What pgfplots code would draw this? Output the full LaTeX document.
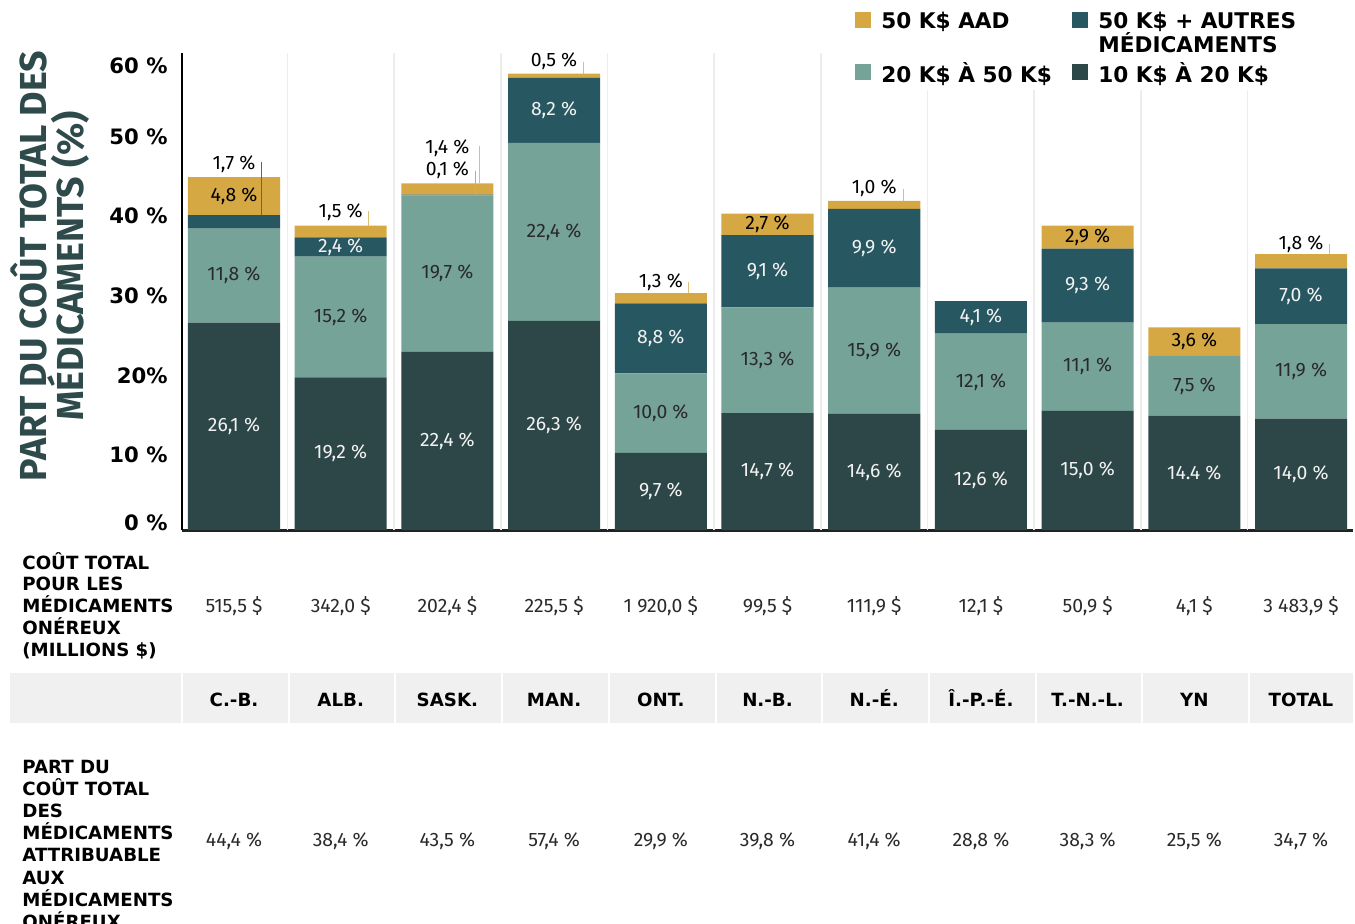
\documentclass[border=0pt]{standalone}
\usepackage{pgfplots}
\pgfplotsset{compat=1.18}
\usepackage{fontspec}
\setmainfont{Fira Sans}
\newfontfamily\hd{DejaVu Sans}
\definecolor{cgold}{HTML}{D5A843}
\definecolor{cblue}{HTML}{275862}
\definecolor{clight}{HTML}{76A398}
\definecolor{cdark}{HTML}{2D4647}
\definecolor{cylab}{HTML}{2E4A4A}
\definecolor{ctxt}{HTML}{2A2A2A}
\definecolor{cwt}{HTML}{F2F2F2}
\newcommand\lf{\fontsize{9.7}{11}\selectfont}
\newcommand\hf{\hd\bfseries\fontsize{9.1}{10.9}\selectfont}
\pgfplotsset{sqlegend/.style={legend image code/.code={\fill[##1,draw=none] (0pt,-3pt) rectangle (8pt,5pt);}},
  samegeom/.style={at={(91pt,-265pt)}, anchor=south west, scale only axis,
  width=585.5pt, height=238.5pt, xmin=-0.487, xmax=10.487, ymin=0, ymax=60, clip=false}}
\newcommand\lab[4]{\node[text=#4,font=\lf,inner sep=0pt] at (axis cs:#1,#2) {#3};}
\begin{document}
\begin{tikzpicture}
\begin{scope}[x=0.5pt,y=-0.5pt]
\useasboundingbox (0,0) rectangle (1355,923);
\fill[gray!12] (10,673) rectangle (1353,723);
\foreach \i in {0,...,10} \fill[white] ({182+106.7*\i-1},670) rectangle ({182+106.7*\i+1},726);
\node[rotate=90,align=center,font=\bfseries\fontsize{18.8}{18.5}\selectfont,text=cylab] at (50,266) {PART DU COÛT TOTAL DES\\MÉDICAMENTS (\%)};
\node[anchor=base west,inner sep=0pt,font=\hf] at (22,569) {\vtop{\baselineskip=10.9pt\lineskiplimit=-20pt\hbox{COÛT TOTAL}\hbox{POUR LES}\hbox{MÉDICAMENTS}\hbox{ONÉREUX}\hbox{(MILLIONS \$)}}};
\node[anchor=base west,inner sep=0pt,font=\hf] at (22,773) {\vtop{\baselineskip=11.1pt\lineskiplimit=-20pt\hbox{PART DU}\hbox{COÛT TOTAL}\hbox{DES}\hbox{MÉDICAMENTS}\hbox{ATTRIBUABLE}\hbox{AUX}\hbox{MÉDICAMENTS}\hbox{ONÉREUX}}};
\foreach \v [count=\i from 0] in {{515,5 \$},{342,0 \$},{202,4 \$},{225,5 \$},{1 920,0 \$},{99,5 \$},{111,9 \$},{12,1 \$},{50,9 \$},{4,1 \$},{3 483,9 \$}}
  \node[anchor=base,inner sep=0pt,font=\lf,text=ctxt] at ({234+106.7*\i},612) {\v};
\foreach \v [count=\i from 0] in {C.-B.,ALB.,SASK.,MAN.,ONT.,N.-B.,N.-É.,Î.-P.-É.,T.-N.-L.,YN,TOTAL}
  \node[anchor=base,inner sep=0pt,font=\hf] at ({234+106.7*\i},706) {\v};
\foreach \v [count=\i from 0] in {{44,4 \%},{38,4 \%},{43,5 \%},{57,4 \%},{29,9 \%},{39,8 \%},{41,4 \%},{28,8 \%},{38,3 \%},{25,5 \%},{34,7 \%}}
  \node[anchor=base,inner sep=0pt,font=\lf,text=ctxt] at ({234+106.7*\i},846) {\v};
\end{scope}
\begin{axis}[
  samegeom,
  ybar stacked, bar width=0.863,
  every axis plot post/.append style={sqlegend},
  axis x line*=bottom, axis y line*=left,
  x axis line style={line width=1.5pt, color=black!87},
  y axis line style={line width=1.1pt, color=black},
  xtick=\empty,
  ytick={0,10,20,30,40,50,60},
  yticklabels={{\raisebox{3.5pt}[\height][\depth]{0 \%}},{\raisebox{-2.25pt}[\height][\depth]{10 \%}},{\raisebox{-2.5pt}[\height][\depth]{20\%}},{\raisebox{-2.25pt}[\height][\depth]{30 \%}},{\raisebox{-2pt}[\height][\depth]{40 \%}},{\raisebox{-2.25pt}[\height][\depth]{50 \%}},{\raisebox{-6.5pt}[\height][\depth]{60 \%}}},
  major tick length=0pt,
  yticklabel style={font=\hd\bfseries\fontsize{10.6}{12}\selectfont, inner sep=0pt, xshift=-7pt},
  reverse legend,
  legend columns=2,
  legend style={at={(rel axis cs:0.5747,1.0944)}, anchor=north west, draw=none, fill=white,
    inner sep=0pt, font=\hd\bfseries\fontsize{10.8}{12}\selectfont, row sep=11.5pt,
    /tikz/every odd column/.append style={column sep=3pt},
    /tikz/every even column/.append style={column sep=0pt}},
  legend cell align=left,
]
\draw[gray!14,line width=0.8pt] (axis cs:0.5,0) -- (axis cs:0.5,60);
\draw[gray!14,line width=0.8pt] (axis cs:1.5,0) -- (axis cs:1.5,60);
\draw[gray!14,line width=0.8pt] (axis cs:2.5,0) -- (axis cs:2.5,60);
\draw[gray!14,line width=0.8pt] (axis cs:3.5,0) -- (axis cs:3.5,60);
\draw[gray!14,line width=0.8pt] (axis cs:4.5,0) -- (axis cs:4.5,60);
\draw[gray!14,line width=0.8pt] (axis cs:5.5,0) -- (axis cs:5.5,60);
\draw[gray!14,line width=0.8pt] (axis cs:6.5,0) -- (axis cs:6.5,60);
\draw[gray!14,line width=0.8pt] (axis cs:7.5,0) -- (axis cs:7.5,55.8);
\draw[gray!14,line width=0.8pt] (axis cs:8.5,0) -- (axis cs:8.5,55.8);
\draw[gray!14,line width=0.8pt] (axis cs:9.5,0) -- (axis cs:9.5,55.8);
\addplot[fill=cdark, draw=none] coordinates {(0,26.1) (1,19.2) (2,22.4) (3,26.3) (4,9.7) (5,14.7) (6,14.6) (7,12.6) (8,15.0) (9,14.4) (10,14.0)};
\addlegendentry{10 K\$ À 20 K\$}
\addplot[fill=clight, draw=none] coordinates {(0,11.8) (1,15.2) (2,19.7) (3,22.4) (4,10.0) (5,13.3) (6,15.9) (7,12.1) (8,11.1) (9,7.5) (10,11.9)};
\addlegendentry{\makebox[93.5pt][l]{20 K\$ À 50 K\$}}
\addplot[fill=cblue, draw=none] coordinates {(0,1.7) (1,2.4) (2,0.1) (3,8.2) (4,8.8) (5,9.1) (6,9.9) (7,4.1) (8,9.3) (9,0) (10,7.0)};
\addlegendentry{\vtop{\baselineskip=11.8pt\lineskiplimit=-20pt\hbox{50 K\$ + AUTRES}\hbox{MÉDICAMENTS}}}
\addplot[fill=cgold, draw=none] coordinates {(0,4.8) (1,1.5) (2,1.4) (3,0.5) (4,1.3) (5,2.7) (6,1.0) (7,0) (8,2.9) (9,3.6) (10,1.8)};
\addlegendentry{\makebox[93.5pt][l]{50 K\$ AAD}}
\end{axis}
\begin{axis}[samegeom, hide axis]
% dark segment labels
\lab{0}{13.05}{26,1 \%}{cwt}\lab{1}{9.6}{19,2 \%}{cwt}\lab{2}{11.2}{22,4 \%}{cwt}\lab{3}{13.15}{26,3 \%}{cwt}
\lab{4}{4.85}{9,7 \%}{cwt}\lab{5}{7.35}{14,7 \%}{cwt}\lab{6}{7.3}{14,6 \%}{cwt}\lab{7}{6.3}{12,6 \%}{cwt}
\lab{8}{7.5}{15,0 \%}{cwt}\lab{9}{7.2}{14.4 \%}{cwt}\lab{10}{7.0}{14,0 \%}{cwt}
% light segment labels
\lab{0}{32.0}{11,8 \%}{ctxt}\lab{1}{26.8}{15,2 \%}{ctxt}\lab{2}{32.25}{19,7 \%}{ctxt}\lab{3}{37.5}{22,4 \%}{ctxt}
\lab{4}{14.7}{10,0 \%}{ctxt}\lab{5}{21.35}{13,3 \%}{ctxt}\lab{6}{22.55}{15,9 \%}{ctxt}\lab{7}{18.65}{12,1 \%}{ctxt}
\lab{8}{20.55}{11,1 \%}{ctxt}\lab{9}{18.15}{7,5 \%}{ctxt}\lab{10}{19.95}{11,9 \%}{ctxt}
% blue segment labels
\lab{1}{35.6}{2,4 \%}{cwt}\lab{3}{52.8}{8,2 \%}{cwt}\lab{4}{24.1}{8,8 \%}{cwt}\lab{5}{32.55}{9,1 \%}{cwt}
\lab{6}{35.45}{9,9 \%}{cwt}\lab{7}{26.75}{4,1 \%}{cwt}\lab{8}{30.75}{9,3 \%}{cwt}\lab{10}{29.4}{7,0 \%}{cwt}
% gold segment labels
\lab{0}{42.0}{4,8 \%}{black}\lab{5}{38.45}{2,7 \%}{black}\lab{8}{36.85}{2,9 \%}{black}\lab{9}{23.7}{3,6 \%}{black}
% labels above with leader lines
\lab{0}{46.0}{1,7 \%}{black}\draw[cblue!85,line width=0.5pt] (axis cs:0.262,46.3) -- (axis cs:0.262,39.6);
\lab{1}{40.0}{1,5 \%}{black}\draw[cgold!75,line width=0.5pt] (axis cs:1.26,40.1) -- (axis cs:1.26,38.3);
\lab{2}{48.0}{1,4 \%}{black}\draw[cgold!75,line width=0.5pt] (axis cs:2.30,48.3) -- (axis cs:2.30,43.6);
\lab{2}{45.2}{0,1 \%}{black}\draw[cblue!45,line width=0.5pt] (axis cs:2.262,45.2) -- (axis cs:2.262,42.2);
\lab{3}{59.0}{0,5 \%}{black}\draw[cgold!75,line width=0.5pt] (axis cs:3.28,58.9) -- (axis cs:3.28,57.4);
\lab{4}{31.2}{1,3 \%}{black}\draw[cgold!75,line width=0.5pt] (axis cs:4.26,31.2) -- (axis cs:4.26,29.8);
\lab{6}{43.0}{1,0 \%}{black}\draw[cgold!75,line width=0.5pt] (axis cs:6.27,42.9) -- (axis cs:6.27,41.4);
\lab{10}{36.0}{1,8 \%}{black}\draw[cgold!75,line width=0.5pt] (axis cs:10.27,36.0) -- (axis cs:10.27,34.7);
\end{axis}
\end{tikzpicture}
\end{document}
